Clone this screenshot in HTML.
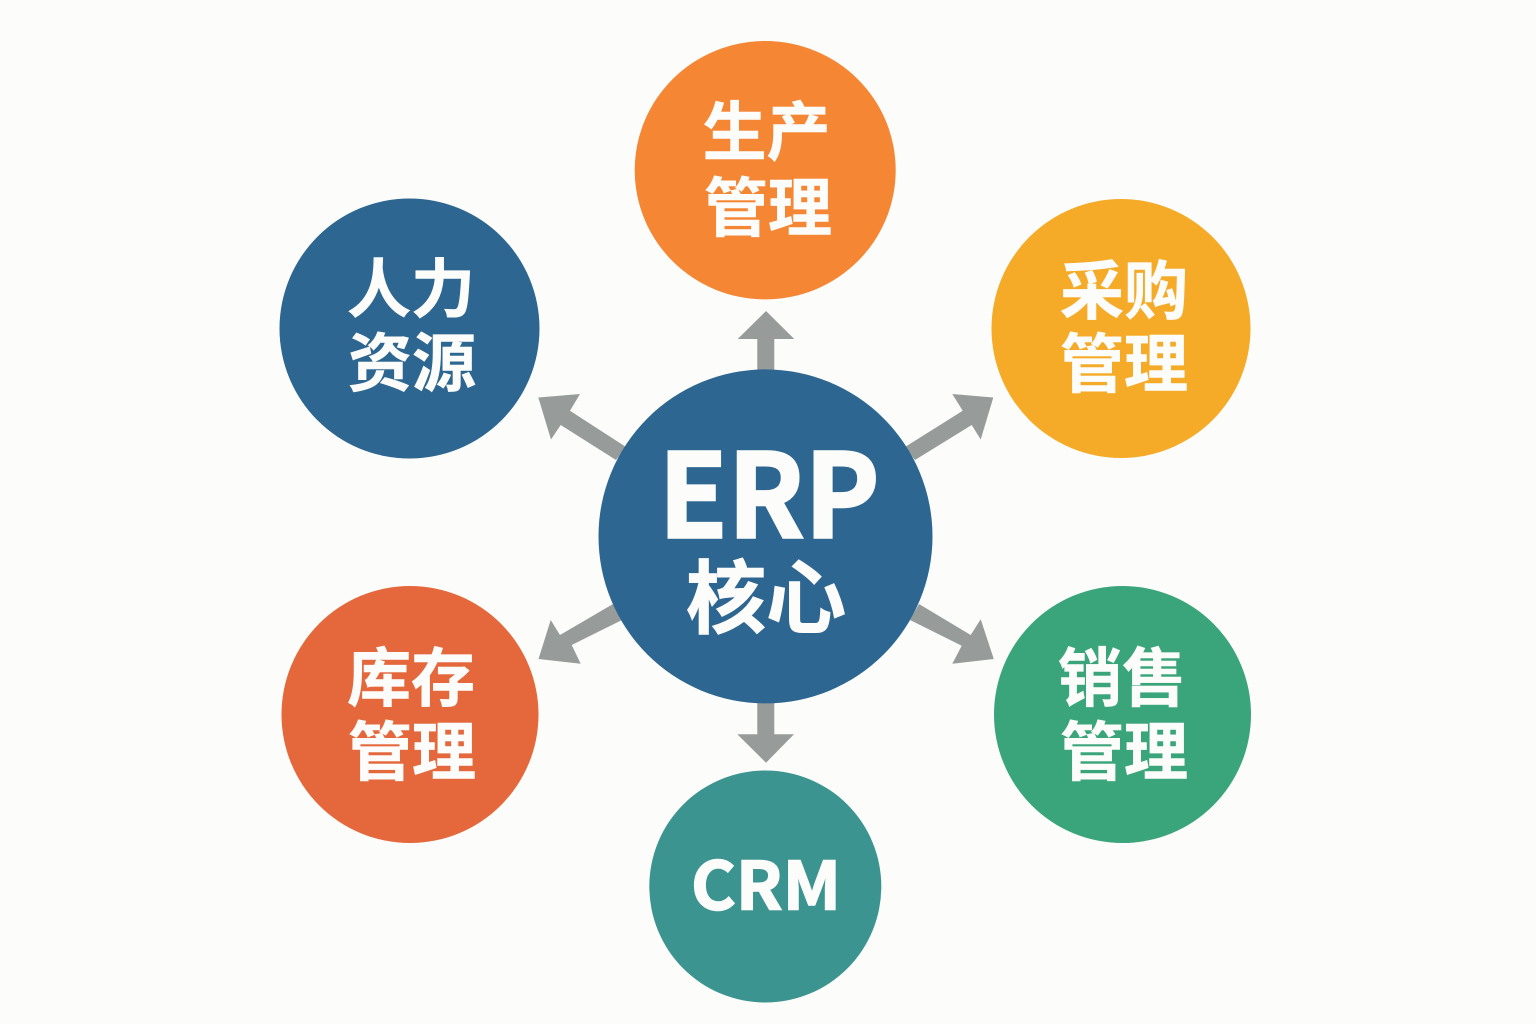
<!DOCTYPE html>
<html lang="zh">
<head>
<meta charset="utf-8">
<style>
html,body{margin:0;padding:0;background:#fcfcfa;}
svg{display:block;}
text{font-family:"Noto Sans CJK SC","Liberation Sans",sans-serif;fill:#fcfcfa;stroke:#fcfcfa;text-anchor:middle;font-weight:700;}
.c{font-size:64px;stroke-width:.6px;}
</style>
</head>
<body>
<svg width="1536" height="1024" viewBox="0 0 1536 1024" xmlns="http://www.w3.org/2000/svg">
<rect width="1536" height="1024" fill="#fcfcfa"/>
<!-- arrows -->
<g fill="#979c9b">
<polygon points="757.300,375 757.300,339 737.700,339 766,311 794.300,339 774.300,339 774.300,375"/>
<polygon points="905,447 962.700,410.700 952.300,394 993.300,397.500 980.700,439.500 971.700,425 915,460"/>
<polygon points="626,447 570,410.700 580,394 538.300,397.500 551,439.500 560.700,425 616,460"/>
<polygon points="613,604 560,635 550.700,620 538.500,659 580.700,663.800 571.700,645 622,620"/>
<polygon points="919,604 970.700,635 980.700,619.300 993.800,659 952.300,663.800 961.700,645.700 910,620"/>
<polygon points="757.300,698 757.300,734.300 737.300,734.300 766,762.700 794,734.300 774.300,734.300 774.300,698"/>
</g>
<!-- circles -->
<ellipse cx="765.200" cy="170.200" rx="130.500" ry="129.200" fill="#f58634"/>
<circle cx="1121" cy="328.500" r="129.500" fill="#f5ab27"/>
<circle cx="1122.500" cy="714.500" r="128.500" fill="#3aa57a"/>
<circle cx="765.300" cy="886.500" r="116" fill="#3c9490"/>
<circle cx="410" cy="714.500" r="128.500" fill="#e4683c"/>
<circle cx="409.500" cy="328.500" r="130" fill="#2d6690"/>
<circle cx="765.500" cy="536.400" r="167" fill="#2d6690"/>
<!-- labels -->
<text class="c" x="766.500" y="155">生产</text>
<text class="c" x="768" y="231">管理</text>
<text class="c" x="1124" y="314">采购</text>
<text class="c" x="1124" y="387">管理</text>
<text class="c" x="1122" y="701">销售</text>
<text class="c" x="1124" y="775">管理</text>
<text class="c" x="411" y="701">库存</text>
<text class="c" x="412" y="775">管理</text>
<text class="c" x="411" y="312">人力</text>
<text class="c" x="412" y="386">资源</text>
<text x="769" y="537.500" font-size="116" stroke-width="2.500" textLength="221" lengthAdjust="spacingAndGlyphs">ERP</text>
<text class="c" x="766" y="627" style="font-size:80px;stroke-width:1px">核心</text>
<text x="766" y="909.500" font-size="66" stroke-width="1.500" textLength="150" lengthAdjust="spacingAndGlyphs">CRM</text>
</svg>
</body>
</html>
